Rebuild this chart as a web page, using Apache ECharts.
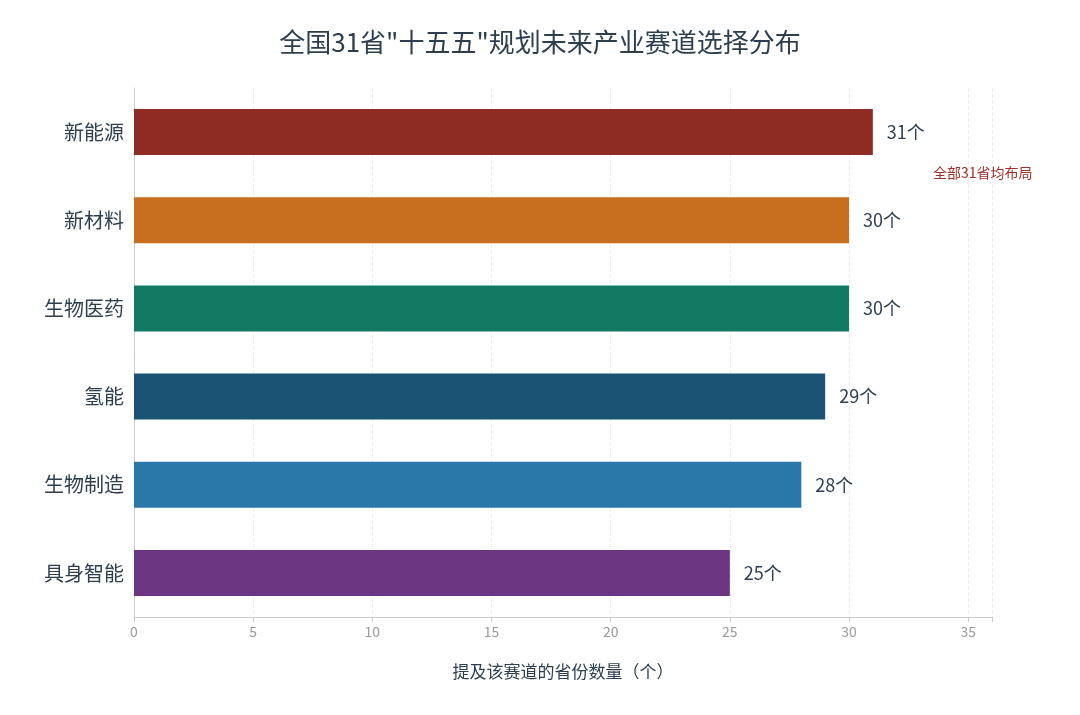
<!DOCTYPE html><html><head><meta charset="utf-8">
<script src="https://cdn.jsdelivr.net/npm/echarts@6/dist/echarts.min.js"></script>
<style>body{margin:0}#c{width:1080px;height:715px}</style></head><body><div id="c"></div>
<script>
const categories=['新能源','新材料','生物医药','氢能','生物制造','具身智能'];
const values=[31,30,30,29,28,25];
const colors=['#8e2b23','#c86f1f','#127a63','#1b5375','#2a77a9','#6c3582'];
const F='"Noto Sans CJK SC","Noto Sans",sans-serif';
const ch=echarts.init(document.getElementById('c'));
ch.setOption({
 textStyle:{fontFamily:F},
 title:{text:'全国31省"十五五"规划未来产业赛道选择分布',left:'center',top:24,textStyle:{fontSize:26,fontWeight:'normal',color:'#2c3e50',fontFamily:F}},
 grid:{left:134,right:88,top:88,bottom:98},
 xAxis:{type:'value',min:0,max:36,interval:5,
  axisLabel:{color:'#999',fontSize:14,formatter:v=>v%5===0?v:''},
  axisLine:{show:true,lineStyle:{color:'#ccc'}},axisTick:{show:true,lineStyle:{color:'#ccc'}},
  splitLine:{show:true,lineStyle:{type:'dashed',color:'#eee'}},
  name:'提及该赛道的省份数量（个）',nameLocation:'middle',nameGap:46,nameTextStyle:{fontSize:17,color:'#2c3e50'}},
 yAxis:{type:'category',inverse:true,data:categories,
  axisLabel:{fontSize:20,color:'#2c3e50',margin:10},
  axisLine:{lineStyle:{color:'#ccc'}},axisTick:{show:false}},
 series:[{type:'bar',barWidth:46,
  data:values.map((v,i)=>({value:v,itemStyle:{color:colors[i]}})),
  label:{show:true,position:'right',distance:14,fontSize:18,color:'#2c3e50',formatter:p=>p.value+'个'}}]
});
const p=ch.convertToPixel({xAxisIndex:0,yAxisIndex:0},[33.3,'新能源']);
ch.setOption({graphic:[{type:'text',left:933,top:p[1]+34,style:{text:'全部31省均布局',fontSize:14,fill:'#a0302a',fontFamily:F}}]});
</script></body></html>
